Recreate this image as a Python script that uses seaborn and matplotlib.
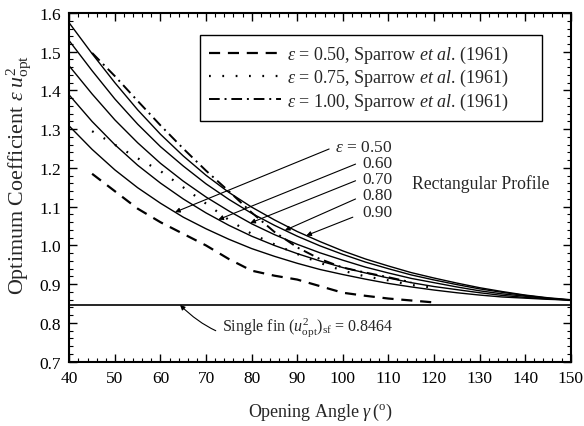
import numpy as np
import pandas as pd
import matplotlib
matplotlib.use("Agg")
import matplotlib.pyplot as plt
import seaborn as sns

# ---------------- data ----------------
angles = [40, 45, 50, 55, 60, 65, 70, 75, 80, 85, 90, 95, 100, 105, 110,
          115, 120, 125, 130, 135, 140, 145, 150]
coef_050 = [1.308, 1.248, 1.195, 1.149, 1.109, 1.073, 1.043, 1.016, 0.992, 0.972,
            0.954, 0.938, 0.925, 0.913, 0.902, 0.893, 0.885, 0.878, 0.872, 0.867,
            0.864, 0.861, 0.859]
coef_060 = [1.388, 1.320, 1.260, 1.207, 1.161, 1.120, 1.084, 1.052, 1.024, 1.000,
            0.979, 0.960, 0.943, 0.929, 0.916, 0.904, 0.894, 0.886, 0.878, 0.871,
            0.866, 0.862, 0.859]
coef_070 = [1.463, 1.391, 1.324, 1.265, 1.212, 1.166, 1.125, 1.089, 1.056, 1.028,
            1.003, 0.981, 0.962, 0.944, 0.929, 0.915, 0.904, 0.893, 0.883, 0.875,
            0.869, 0.863, 0.859]
coef_080 = [1.528, 1.451, 1.378, 1.313, 1.255, 1.205, 1.159, 1.119, 1.083, 1.052,
            1.024, 0.999, 0.977, 0.957, 0.940, 0.924, 0.911, 0.899, 0.888, 0.879,
            0.871, 0.864, 0.859]
coef_090 = [1.574, 1.495, 1.420, 1.350, 1.287, 1.231, 1.181, 1.137, 1.099, 1.066,
            1.036, 1.010, 0.986, 0.965, 0.947, 0.930, 0.916, 0.903, 0.891, 0.881,
            0.872, 0.865, 0.860]
eps_labels = ["0.50", "0.60", "0.70", "0.80", "0.90"]

sp_angle_050 = [45, 50, 55, 60, 65, 70, 75, 80, 85, 90, 95, 100, 105, 110, 115, 120]
sp_050 = [1.185, 1.140, 1.095, 1.060, 1.030, 1.000, 0.965, 0.935, 0.922, 0.912,
          0.895, 0.878, 0.870, 0.863, 0.858, 0.853]
sp_angle_075 = [45, 50, 55, 60, 65, 70, 75, 80, 85, 90, 95, 100, 105, 110, 115, 120]
sp_075 = [1.295, 1.260, 1.225, 1.192, 1.150, 1.108, 1.066, 1.030, 1.003, 0.978,
          0.955, 0.935, 0.920, 0.910, 0.898, 0.891]
sp_angle_100 = [45, 50, 55, 60, 65, 70, 75, 80, 85, 90, 95, 100, 105, 110, 115]
sp_100 = [1.497, 1.437, 1.373, 1.310, 1.250, 1.193, 1.140, 1.085, 1.035, 0.995,
          0.965, 0.943, 0.930, 0.918, 0.905]

single_fin = 0.8464

x_ticks = [40, 50, 60, 70, 80, 90, 100, 110, 120, 130, 140, 150]
y_ticks = [0.7, 0.8, 0.9, 1.0, 1.1, 1.2, 1.3, 1.4, 1.5, 1.6]

# ---------------- style ----------------
sns.set_style("ticks")
plt.rcParams["font.family"] = ["Liberation Serif", "DejaVu Serif"]
plt.rcParams["mathtext.fontset"] = "custom"
plt.rcParams["mathtext.rm"] = "Liberation Serif"
plt.rcParams["mathtext.it"] = "Liberation Serif:italic"
plt.rcParams["mathtext.bf"] = "Liberation Serif:bold"

fig = plt.figure(figsize=(5.84, 4.27), dpi=100)
ax = fig.add_axes([0.1187, 0.1506, 0.8585, 0.8166])

solid = [coef_050, coef_060, coef_070, coef_080, coef_090]
for vals in solid:
    sns.lineplot(x=angles, y=vals, ax=ax, color="black", lw=1.0,
                 estimator=None, sort=False)

l1 = sns.lineplot(x=sp_angle_050, y=sp_050, ax=ax, color="black", lw=1.6,
                  estimator=None, sort=False).lines[-1]
l1.set_dashes((5, 3.5))
l2 = sns.lineplot(x=sp_angle_075, y=sp_075, ax=ax, color="black", lw=1.6,
                  estimator=None, sort=False).lines[-1]
l2.set_dashes((0.8, 5.2))
l3 = sns.lineplot(x=sp_angle_100, y=sp_100, ax=ax, color="black", lw=1.4,
                  estimator=None, sort=False).lines[-1]
l3.set_dashes((5.5, 2.5, 1.0, 2.5))

ax.axhline(single_fin, color="black", lw=1.2)

ax.set_xlim(40, 150)
ax.set_ylim(0.7, 1.6)
ax.set_xticks(x_ticks)
ax.set_yticks(y_ticks)
ax.set_xticklabels([str(v) for v in x_ticks])
ax.set_yticklabels([f"{v:.1f}" for v in y_ticks])
ax.set_xticks(np.arange(40, 151, 2), minor=True)
ax.set_yticks(np.arange(0.70, 1.601, 0.02), minor=True)
ax.tick_params(which="both", direction="in", top=True, right=True,
               color="black", labelsize=12.5, labelcolor="black")
ax.tick_params(which="major", length=6, width=1.0, pad=6)
ax.tick_params(which="minor", length=3, width=0.8)
for s in ax.spines.values():
    s.set_visible(True)
    s.set_linewidth(1.5)
    s.set_color("black")

ax.set_xlabel(r"Opening Angle $\gamma\,(^{\rm o})$", fontsize=13)
ax.set_ylabel(r"Optimum Coefficient $\varepsilon\;u^2_{\rm opt}$", fontsize=15.8)
ax.xaxis.set_label_coords(0.5, -0.112)
ax.yaxis.set_label_coords(-0.072, 0.537)

# legend
leg_labels = [r"$\varepsilon$ = 0.50, Sparrow $et\ al$. (1961)",
              r"$\varepsilon$ = 0.75, Sparrow $et\ al$. (1961)",
              r"$\varepsilon$ = 1.00, Sparrow $et\ al$. (1961)"]
leg = ax.legend([l1, l2, l3], leg_labels, loc="upper left",
                bbox_to_anchor=(0.2607, 0.937, 0.682, 0.0), mode="expand",
                fancybox=False, frameon=True, edgecolor="black",
                fontsize=13, handlelength=4.0, handletextpad=0.3,
                labelspacing=0.12, borderpad=0.5, borderaxespad=0.0)
leg.get_frame().set_linewidth(1.0)
leg.get_frame().set_alpha(1)

# epsilon labels with arrows
lab_pos = [(110.8, 1.254), (110.8, 1.214), (110.8, 1.1715), (110.8, 1.130), (110.8, 1.086)]
lab_txt = [r"$\varepsilon$ = 0.50", "0.60", "0.70", "0.80", "0.90"]
tails = [(97.0, 1.249), (102.8, 1.210), (102.8, 1.167), (102.8, 1.120), (102.2, 1.073)]
tips_x = [63.2, 72.7, 79.7, 87.3, 92.0]
for (tx, ty), t, (ax_, ay_), px, vals in zip(lab_pos, lab_txt, tails, tips_x, solid):
    ax.text(tx, ty, t, ha="right", va="center", fontsize=12.5)
    ax.annotate("", xy=(px, np.interp(px, angles, vals)), xytext=(ax_, ay_),
                arrowprops=dict(arrowstyle="-|>", color="black", lw=0.8,
                                mutation_scale=7, shrinkA=0, shrinkB=0))

ax.text(115.1, 1.161, "Rectangular Profile", ha="left", va="center", fontsize=12.7)

ax.annotate(r"Single fin $(u^2_{\rm opt})_{\rm sf}$ = 0.8464", xy=(64.3, single_fin),
            xytext=(73.4, 0.789), ha="left", va="center", fontsize=11.5,
            arrowprops=dict(arrowstyle="-|>", color="black", lw=0.8,
                            mutation_scale=7, shrinkA=2, shrinkB=0,
                            connectionstyle="arc3,rad=-0.35"))

fig.savefig("out.png", dpi=100)
